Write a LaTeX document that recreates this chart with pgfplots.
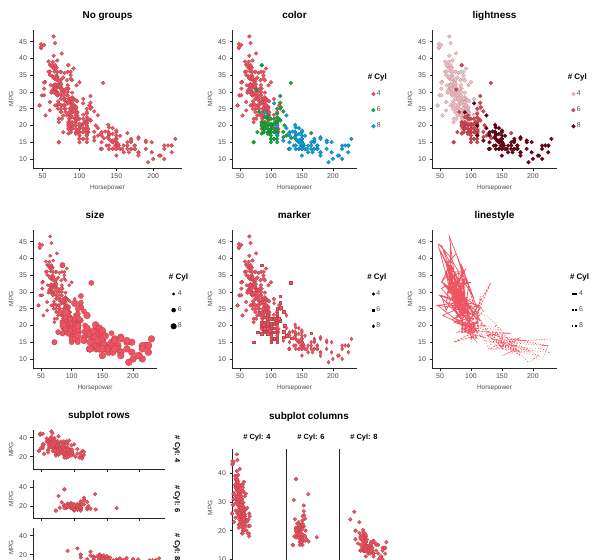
\documentclass[border=0pt]{standalone}
\usepackage{fontspec}
\setmainfont{Liberation Sans}
\usepackage{pgfplots}
\usepackage{pgfplotstable}
\pgfplotsset{compat=1.18}

\definecolor{cR}{RGB}{238,84,98}
\definecolor{cG}{RGB}{25,165,60}
\definecolor{cB}{RGB}{15,160,215}
\definecolor{lA}{RGB}{247,192,198}
\definecolor{lB}{RGB}{212,70,84}
\definecolor{lC}{RGB}{105,5,20}

\pgfplotstableread{
hp mpg
95 24
88 27
46 26
87 25
90 24
95 25
113 26
88 27
90 28
95 25
72 22
86 23
90 28
70 30
76 30
65 31
69 35
60 27
70 26
95 24
80 25
54 23
90 20
86 21
112 18
76 22
87 21
69 26
86 22
92 28
97 23
80 28
88 27
46 26
88 20
72 21
94 22
85 19
90 26
49 29
75 24
91 20
112 19
110 24
67 31
80 26
65 32
75 25
83 29
67 26
78 26
52 31
61 32
75 28
75 24
75 26
97 24
93 26
67 31
75 29
83 23
78 23
96 24
71 25
97 24
70 29
95 23
88 23
98 22
115 25
53 33
86 28
81 25
92 25
79 26
83 27
52 29
60 24.5
70 29
53 33
71 29.5
70 32
75 28
72 26.5
102 20
88 19
108 19
68 31.5
80 30
58 36
96 25.5
70 33.5
78 29
88 24.5
75 26
89 25.5
63 30.5
83 33.5
67 30
78 30.5
110 21.5
48 43.1
66 36.1
52 32.8
70 39.4
60 36.1
88 25.1
68 30
95 27.5
97 27.2
75 30.9
95 21.1
105 23.2
85 23.8
97 23.9
115 21.6
71 31.5
68 29.5
88 22.3
71 31.9
65 34.1
80 35.7
80 27.4
71 27.2
70 34.2
70 34.5
65 31.8
69 37.3
90 28.4
90 33.5
76 41.5
60 38.1
70 32.1
65 37.2
90 28
88 26.4
90 24.3
78 34.3
90 29.8
75 31.3
92 37
75 32.2
65 46.6
105 27.9
65 40.8
48 44.3
48 43.4
67 30
67 44.6
67 33.8
62 29.8
88 35
72 32.4
84 27.2
84 26.6
92 25.8
84 30
58 39.1
64 39
60 35.1
67 32.3
65 37
62 37.7
68 34.1
63 34.7
65 34.4
65 29.9
74 33
75 33.7
75 32.4
100 32.9
74 31.6
80 28.1
88 28
88 27
88 34
85 31
84 29
90 27
92 24
74 36
68 37
68 31
63 38
70 36
88 36
75 36
70 34
67 38
67 32
92 26
96 32
84 36
90 27
86 27
52 44
84 32
79 28
82 31
}\cfour

\pgfplotstableread{
hp mpg
95 22
97 18
85 21
90 21
100 19
105 16
100 17
88 19
100 18
110 18
100 19
88 18
105 18
100 16
100 18
88 18
95 23
100 18
107 21
122 20
95 20
100 19
100 15
100 16
110 16
105 18
95 19
105 18
72 15
72 15
110 17
105 16
110 15
95 18
110 21
100 20
97 18
90 19
100 22
105 22
81 24
90 22.5
100 20
78 18
110 18.5
95 17.5
120 16.5
110 17.5
105 20.5
100 19
98 18.5
97 22
105 19.2
95 20.5
85 20.2
100 20.5
90 19.4
105 20.6
85 20.8
110 18.6
120 18.1
165 17.7
125 17
133 16.2
115 21.5
85 19.8
90 20.2
110 20.6
115 28.8
115 26.8
90 19.1
132 32.7
110 23.5
76 30.7
116 25.4
120 24.2
110 22.4
88 20.2
85 17.6
85 38
110 25
85 38
112 22
}\csix

\pgfplotstableread{
hp mpg
130 18
165 15
150 18
150 16
140 17
198 15
220 14
215 14
225 14
190 15
170 15
160 14
150 15
225 14
215 10
200 10
210 11
193 9
165 14
175 14
153 14
150 14
180 12
170 13
175 13
165 13
175 14
150 15
153 14
150 17
208 11
155 13
160 12
190 13
150 15
130 13
140 13
150 14
175 13
150 14
145 13
137 14
150 15
198 12
150 13
158 13
150 14
215 13
225 12
175 13
150 11
167 12
170 13
180 12
145 15
230 16
150 15
180 11
140 16
150 13
150 14
140 14
150 14
170 16
145 15
150 16
148 14
110 20
129 13
140 17.5
150 16
120 15.5
152 14.5
150 13
180 16.5
145 13
130 13
150 13
145 17.5
110 17
145 15.5
130 15
180 16
170 15.5
190 15.5
149 16
110 19.9
140 19.4
139 20.2
145 19.2
139 18.1
140 17.5
130 17
129 17.6
138 16.5
135 18.2
155 16.9
142 15.5
125 19.2
150 18.5
125 23
90 23.9
105 26.6
}\ceight

\pgfplotsset{
  base/.style={scale only axis, axis x line*=bottom, axis y line*=left,
    axis line style={black!85, line width=0.8bp},
    tick align=outside, major tick length=2.5bp,
    tick style={black!85, line width=0.6bp},
    /pgf/number format/assume math mode=true,
    tick label style={font=\fontsize{7}{8}\selectfont, text=black!70},
    label style={font=\fontsize{6.5}{7.5}\selectfont, text=black!70},
    title style={font=\bfseries\fontsize{10}{12}\selectfont, at={(0.5,1)}, anchor=base, yshift=6bp},
    clip=false},
  main/.style={base, width=125bp, height=138bp, xmin=37, xmax=239, ymin=7.3, ymax=48.5,
    xtick={50,100,150,200}, ytick={10,15,...,45},
    xlabel={Horsepower}, ylabel={MPG},
    xlabel style={yshift=1bp}, ylabel style={yshift=-1bp}},
  pt/.style={only marks, mark=*, mark size=1.9bp, mark options={draw=#1!80!black, fill=#1, line width=0.3bp}},
  leg/.style={legend style={at={(1.11,0.695)}, anchor=north west, draw=none, fill=none,
    font=\fontsize{7}{8}\selectfont, text=black!70, row sep=6.8bp, inner sep=0pt,
    nodes={inner sep=1.5bp}}, legend cell align=left},
}

\begin{document}
\begin{tikzpicture}
\useasboundingbox (0,0) rectangle (600bp,-560bp);

% Row 1
\begin{axis}[main, width=149bp, at={(33bp,-168bp)}, anchor=south west, title={No groups}]
\addplot[pt=cR] table {\cfour};
\addplot[pt=cR] table {\csix};
\addplot[pt=cR] table {\ceight};
\end{axis}

\begin{axis}[main, at={(232bp,-168bp)}, anchor=south west, title={color}, leg,
  legend image code/.code={\draw[mark repeat=2,mark phase=2,#1] plot coordinates {(0bp,0bp) (2.5bp,0bp) (5bp,0bp)};}]
\addlegendimage{empty legend}\addlegendentry{\hspace*{-9bp}\textcolor{black}{\bfseries\fontsize{8}{9}\selectfont\#~Cyl}}
\addplot[pt=cR] table {\cfour};\addlegendentry{4}
\addplot[pt=cG] table {\csix};\addlegendentry{6}
\addplot[pt=cB] table {\ceight};\addlegendentry{8}
\end{axis}

\begin{axis}[main, at={(432bp,-168bp)}, anchor=south west, title={lightness}, leg,
  legend image code/.code={\draw[mark repeat=2,mark phase=2,#1] plot coordinates {(0bp,0bp) (2.5bp,0bp) (5bp,0bp)};}]
\addlegendimage{empty legend}\addlegendentry{\hspace*{-9bp}\textcolor{black}{\bfseries\fontsize{8}{9}\selectfont\#~Cyl}}
\addplot[pt=lA] table {\cfour};\addlegendentry{4}
\addplot[pt=lB] table {\csix};\addlegendentry{6}
\addplot[pt=lC] table {\ceight};\addlegendentry{8}
\end{axis}

% Row 2
\begin{axis}[main, width=124bp, at={(33bp,-368bp)}, anchor=south west, title={size}, leg,
  legend image code/.code={\draw[mark repeat=2,mark phase=2,#1] plot coordinates {(0bp,0bp) (2.5bp,0bp) (5bp,0bp)};}]
\addlegendimage{empty legend}\addlegendentry{\hspace*{-9bp}\textcolor{black}{\bfseries\fontsize{8}{9}\selectfont\#~Cyl}}
\addlegendimage{only marks, mark=*, black, mark size=1.2bp}\addlegendentry{4}
\addlegendimage{only marks, mark=*, black, mark size=2bp}\addlegendentry{6}
\addlegendimage{only marks, mark=*, black, mark size=2.8bp}\addlegendentry{8}
\addplot[pt=cR, mark size=1.7bp, forget plot] table {\cfour};
\addplot[pt=cR, mark size=2.6bp, forget plot] table {\csix};
\addplot[pt=cR, mark size=3.4bp, forget plot] table {\ceight};
\end{axis}

\begin{axis}[main, at={(232bp,-368bp)}, anchor=south west, title={marker}, leg,
  legend image code/.code={\draw[mark repeat=2,mark phase=2,#1] plot coordinates {(0bp,0bp) (2.5bp,0bp) (5bp,0bp)};}]
\addlegendimage{empty legend}\addlegendentry{\hspace*{-9bp}\textcolor{black}{\bfseries\fontsize{8}{9}\selectfont\#~Cyl}}
\addlegendimage{only marks, mark=*, black, mark size=1.3bp}\addlegendentry{4}
\addlegendimage{only marks, mark=square*, black, mark size=1.1bp}\addlegendentry{6}
\addlegendimage{only marks, mark=diamond*, black, mark size=1.6bp}\addlegendentry{8}
\addplot[pt=cR, mark=*, forget plot] table {\cfour};
\addplot[pt=cR, mark=square*, mark size=1.3bp, forget plot] table {\csix};
\addplot[pt=cR, mark=diamond*, mark size=2bp, forget plot] table {\ceight};
\end{axis}

\begin{axis}[main, at={(432bp,-368bp)}, anchor=south west, title={linestyle}, leg,
  legend image code/.code={\draw[#1] (0bp,0bp) -- (5bp,0bp);}]
\addlegendimage{empty legend}\addlegendentry{\hspace*{-9bp}\textcolor{black}{\bfseries\fontsize{8}{9}\selectfont\#~Cyl}}
\addlegendimage{black, solid, line width=1.6bp}\addlegendentry{4}
\addlegendimage{black, dashed, dash pattern=on 2bp off 1bp, line width=1.6bp}\addlegendentry{6}
\addlegendimage{black, dotted, line width=1.6bp}\addlegendentry{8}
\addplot[cR, line width=0.7bp, solid, no markers, forget plot] table {\cfour};
\addplot[cR, line width=0.7bp, dashed, dash pattern=on 2bp off 1.5bp, no markers, forget plot] table {\csix};
\addplot[cR, line width=0.7bp, dotted, no markers, forget plot] table {\ceight};
\end{axis}

% Row 3: subplot rows
\pgfplotsset{rowax/.style={base, width=132bp, xmin=37, xmax=239, ymin=7, ymax=48,
  xtick={50,100,150,200}, xticklabels={}, ytick={20,40}, ylabel={MPG}, ylabel style={yshift=-1bp}}}
\begin{axis}[rowax, height=39bp, at={(33bp,-469bp)}, anchor=south west, title={subplot rows}]
\addplot[pt=cR] table {\cfour};
\node[rotate=-90, font=\bfseries\fontsize{7.5}{9}\selectfont, anchor=center] at (rel axis cs:1.09,0.5) {\#~Cyl: 4};
\end{axis}
\begin{axis}[rowax, height=38bp, at={(33bp,-518bp)}, anchor=south west]
\addplot[pt=cR] table {\csix};
\node[rotate=-90, font=\bfseries\fontsize{7.5}{9}\selectfont, anchor=center] at (rel axis cs:1.09,0.5) {\#~Cyl: 6};
\end{axis}
\begin{axis}[rowax, height=39bp, at={(33bp,-567bp)}, anchor=south west]
\addplot[pt=cR] table {\ceight};
\node[rotate=-90, font=\bfseries\fontsize{7.5}{9}\selectfont, anchor=center] at (rel axis cs:1.09,0.5) {\#~Cyl: 8};
\end{axis}

% Row 3: subplot columns
\pgfplotsset{colax/.style={base, width=50bp, height=118bp, xmin=46, xmax=240, ymin=7.3, ymax=48.5,
  xtick={100,200}, xticklabels={}, ytick={10,20,30,40},
  title style={font=\bfseries\fontsize{7.5}{9}\selectfont, yshift=-2bp}}}
\begin{axis}[colax, at={(232bp,-567bp)}, anchor=south west, title={\#~Cyl: 4}, ylabel={MPG}, ylabel style={yshift=-1bp}]
\addplot[pt=cR] table {\cfour};
\end{axis}
\begin{axis}[colax, at={(286bp,-567bp)}, anchor=south west, title={\#~Cyl: 6}, ytick=\empty]
\addplot[pt=cR] table {\csix};
\end{axis}
\begin{axis}[colax, at={(339bp,-567bp)}, anchor=south west, title={\#~Cyl: 8}, ytick=\empty]
\addplot[pt=cR] table {\ceight};
\end{axis}
\node[font=\bfseries\fontsize{10}{12}\selectfont, anchor=base] at (309bp,-419bp) {subplot columns};
\end{tikzpicture}
\end{document}
